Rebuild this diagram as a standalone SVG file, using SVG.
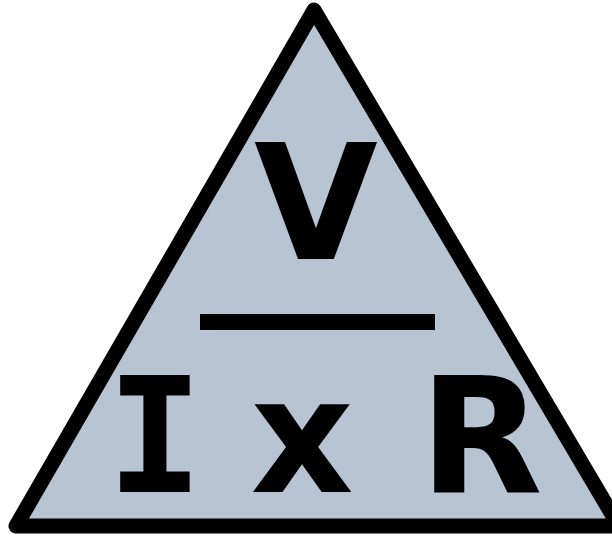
<svg xmlns="http://www.w3.org/2000/svg" width="612" height="536" viewBox="0 0 612 536">
<style>
.t{font-family:"DejaVu Sans","Verdana",sans-serif;font-weight:bold;fill:#000;text-anchor:middle;font-size:160px}
.m{font-family:"DejaVu Sans Mono",monospace;font-weight:bold;fill:#000;text-anchor:middle;font-size:160px}
</style>
<rect width="612" height="536" fill="#ffffff"/>
<g id="triangle">
<polygon points="314,10 16,526 619,526" fill="#b8c4d1" stroke="#000" stroke-width="15" stroke-linejoin="round"/>
</g>
<g id="voltage">
<text class="t" x="316" y="259">V</text>
</g>
<g id="divider">
<rect x="200" y="314" width="235" height="16" fill="#000"/>
</g>
<g id="current">
<text class="m" x="155" y="492">I</text>
</g>
<g id="times">
<text class="t" x="302" y="492">x</text>
</g>
<g id="resistance">
<text class="t" x="481" y="492">R</text>
</g>
</svg>
